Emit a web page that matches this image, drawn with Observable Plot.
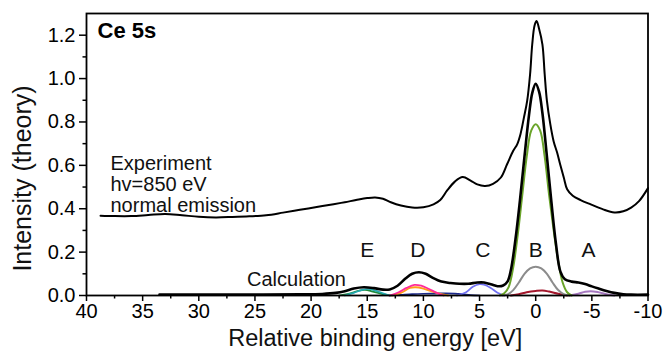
<!DOCTYPE html>
<html>
<head>
<meta charset="utf-8">
<script src="https://cdn.jsdelivr.net/npm/d3@7"></script>
<script src="https://cdn.jsdelivr.net/npm/@observablehq/plot@0.6"></script>
<style>
  html, body { margin: 0; padding: 0; background: #fff; }
  #chart svg { display: block; }
</style>
</head>
<body>
<div id="chart"></div>
<script>
// ---- Data ----
const xTicks = [40, 35, 30, 25, 20, 15, 10, 5, 0, -5, -10];
const xMinorTicks = [37.5, 32.5, 27.5, 22.5, 17.5, 12.5, 7.5, 2.5, -2.5, -7.5];
const yTicks = [0, 0.2, 0.4, 0.6, 0.8, 1.0, 1.2];
const yMinorTicks = [0.1, 0.3, 0.5, 0.7, 0.9, 1.1];

// Experiment (hv = 850 eV, normal emission)
const expX = [38.75,37.5,36,34.5,33,31.5,30,28.5,27,25.5,24,22.5,21,19.5,18,17,16,15,14.3,13.6,12.9,12,11,10,9.1,8.5,7.9,7.2,6.5,5.8,5.2,4.5,3.8,3.1,2.55,2.0,1.65,1.35,1.05,0.76,0.5,0.31,0.1,-0.08,-0.3,-0.6,-0.8,-1.0,-1.3,-1.6,-1.9,-2.2,-2.5,-2.8,-3.3,-4,-4.9,-6,-7,-7.8,-8.5,-9.2,-10];
const expY = [0.368,0.366,0.366,0.371,0.376,0.37,0.363,0.360,0.362,0.365,0.370,0.382,0.395,0.408,0.421,0.430,0.440,0.449,0.452,0.446,0.43,0.415,0.406,0.407,0.42,0.44,0.483,0.525,0.546,0.53,0.512,0.505,0.515,0.544,0.605,0.667,0.697,0.745,0.82,0.897,1.02,1.157,1.245,1.265,1.23,1.157,1.02,0.897,0.79,0.71,0.66,0.6,0.544,0.49,0.46,0.44,0.42,0.397,0.383,0.388,0.405,0.435,0.495];

// Calculation (total)
const calcX = [33.5,30,25,21,19,17.8,17,16.2,15.3,14.4,13.6,13.0,12.3,11.6,11,10.4,9.8,9.2,8.4,7.6,6.8,6,5.2,4.6,4,3.4,2.9,2.5,2.2,1.8,1.4,1.0,0.6,0.3,0,-0.3,-0.6,-1.0,-1.4,-1.8,-2.2,-2.6,-3.2,-3.8,-4.4,-5.0,-5.6,-6.3,-7,-7.8,-8.5,-10];
const calcY = [0.004,0.004,0.004,0.005,0.007,0.012,0.02,0.032,0.038,0.034,0.027,0.028,0.045,0.078,0.1,0.107,0.1,0.082,0.064,0.058,0.054,0.054,0.06,0.06,0.052,0.043,0.046,0.065,0.12,0.26,0.44,0.64,0.83,0.935,0.976,0.94,0.84,0.64,0.43,0.24,0.11,0.075,0.064,0.06,0.053,0.042,0.032,0.021,0.012,0.006,0.004,0.004];

// Calculation components
const greenX = [3.2,2.8,2.4,2.0,1.6,1.2,0.8,0.4,0,-0.4,-0.8,-1.2,-1.6,-2.0,-2.4,-2.8,-3.2];
const greenY = [0,0.01,0.04,0.13,0.28,0.46,0.64,0.76,0.79,0.76,0.64,0.46,0.30,0.16,0.06,0.015,0];
const grayX = [3,2.5,2,1.5,1,0.5,0,-0.5,-1,-1.5,-2,-2.5,-3];
const grayY = [0,0.005,0.025,0.06,0.1,0.125,0.133,0.125,0.1,0.06,0.025,0.006,0];
const redX = [2.2,1.5,0.8,0,-0.6,-1.2,-2,-2.8];
const redY = [0,0.006,0.015,0.021,0.023,0.018,0.008,0];
const mauveX = [-3,-3.8,-4.4,-4.9,-5.5,-6.2,-7];
const mauveY = [0,0.008,0.017,0.02,0.016,0.007,0];
const blueX = [7,6.2,5.6,5.0,4.6,4,3.4,2.8];
const blueY = [0,0.015,0.04,0.052,0.05,0.035,0.013,0];
const pinkX = [13,12.2,11.5,10.8,10.2,9.5,8.8,8.2];
const pinkY = [0,0.015,0.035,0.049,0.045,0.03,0.012,0];
const orangeX = [12.8,12,11.2,10.7,10,9.2,8.4,7.8];
const orangeY = [0,0.012,0.035,0.038,0.032,0.018,0.006,0];
const navyX = [13,12,11,10,9,8,7.2,6.5,5.8,5];
const navyY = [0,0.003,0.006,0.008,0.009,0.010,0.009,0.006,0.002,0];
const tealX = [17,16.2,15.5,15,14.4,13.6,13];
const tealY = [0,0.012,0.025,0.03,0.025,0.01,0];
const dgreenX = [17.5,16.5,15.8,15.2,14.5,13.5,13];
const dgreenY = [0,0.01,0.022,0.026,0.018,0.005,0];

// Peak labels
const peakLabels = ["E", "D", "C", "B", "A"];
const peakLabelX = [15, 10.5, 4.7, 0, -4.7];
const peakLabelY = [0.176, 0.176, 0.176, 0.176, 0.176];

const title = "Ce 5s";
const expLines = ["Experiment", "hv=850 eV", "normal emission"];
const calcLabel = "Calculation";
const xTitle = "Relative binding energy [eV]";
const yTitle = "Intensity (theory)";

// ---- Build tables ----
const toRows = (xs, ys) => xs.map((x, i) => ({x, y: ys[i]}));
const components = [
  {rows: toRows(dgreenX, dgreenY), color: "#1f8a3a", w: 1.7},
  {rows: toRows(tealX, tealY), color: "#25a8b0", w: 1.7},
  {rows: toRows(navyX, navyY), color: "#1c2a8c", w: 1.7},
  {rows: toRows(orangeX, orangeY), color: "#ff9a1a", w: 1.8},
  {rows: toRows(pinkX, pinkY), color: "#ff2a9a", w: 1.8},
  {rows: toRows(blueX, blueY), color: "#6f6ff0", w: 1.8},
  {rows: toRows(mauveX, mauveY), color: "#a678c0", w: 2},
  {rows: toRows(redX, redY), color: "#a3172c", w: 2},
  {rows: toRows(grayX, grayY), color: "#8c8c8c", w: 2},
  {rows: toRows(greenX, greenY), color: "#6aa42a", w: 2}
];

const FONT = "'Liberation Sans', Arial, Helvetica, sans-serif";

const marks = [];
for (const c of components) {
  marks.push(Plot.line(c.rows, {x: "x", y: "y", stroke: c.color, strokeWidth: c.w, curve: "catmull-rom"}));
}
marks.push(Plot.line(toRows(calcX, calcY), {x: "x", y: "y", stroke: "#000", strokeWidth: 2.6, curve: "catmull-rom"}));
marks.push(Plot.line(toRows(expX, expY), {x: "x", y: "y", stroke: "#000", strokeWidth: 2, curve: "catmull-rom"}));

// Axes
marks.push(Plot.axisX({ticks: xMinorTicks, tickSize: 3.5, tickFormat: () => "", strokeWidth: 1.5, label: null}));
marks.push(Plot.axisX({ticks: xTicks, tickSize: 6, tickPadding: 2, tickFormat: d => String(d), fontSize: 20, strokeWidth: 1.5, label: null}));
marks.push(Plot.axisY({ticks: yMinorTicks, tickSize: 3.5, tickFormat: () => "", strokeWidth: 1.5, label: null}));
marks.push(Plot.axisY({ticks: yTicks, tickSize: 7, tickPadding: 4, tickFormat: d3.format(".1f"), fontSize: 20, strokeWidth: 1.5, label: null}));
marks.push(Plot.frame({stroke: "#000", strokeWidth: 1.8}));

// Text
marks.push(Plot.text(peakLabels, {x: (d, i) => peakLabelX[i], y: (d, i) => peakLabelY[i], text: d => d, fontSize: 21, lineAnchor: "bottom", fill: "#111"}));
marks.push(Plot.text([title], {frameAnchor: "top-left", dx: 11, dy: 24, fontSize: 22, fontWeight: "bold", textAnchor: "start", lineAnchor: "bottom", fill: "#000"}));
const expDy = [156.5, 177.5, 198];
expLines.forEach((t, i) => {
  marks.push(Plot.text([t], {frameAnchor: "top-left", dx: 24, dy: expDy[i], fontSize: 20, textAnchor: "start", lineAnchor: "bottom", fill: "#111"}));
});
marks.push(Plot.text([calcLabel], {frameAnchor: "top-left", dx: 160.5, dy: 272, fontSize: 20, textAnchor: "start", lineAnchor: "bottom", fill: "#111"}));
marks.push(Plot.text([xTitle], {frameAnchor: "bottom", dx: 8, dy: 50, fontSize: 23.5, textAnchor: "middle", lineAnchor: "bottom", fill: "#111"}));
marks.push(Plot.text([yTitle], {frameAnchor: "left", dx: -64, dy: 24, rotate: -90, fontSize: 25, letterSpacing: "0.8px", textAnchor: "middle", fill: "#111"}));

const chart = Plot.plot({
  width: 665,
  height: 351,
  marginLeft: 86,
  marginRight: 17.5,
  marginTop: 13,
  marginBottom: 56,
  style: {fontFamily: FONT, background: "#fff", color: "#000", overflow: "visible"},
  x: {domain: [40, -10], axis: null},
  y: {domain: [0, 1.3], axis: null},
  marks
});
document.getElementById("chart").appendChild(chart);
</script>
</body>
</html>
